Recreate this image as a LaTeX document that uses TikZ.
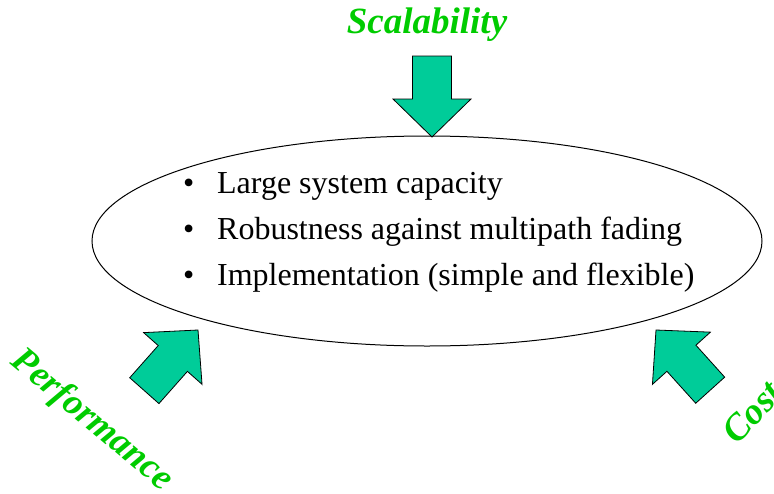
\documentclass[tikz,border=0pt]{standalone}
\usepackage{fontspec}
\setmainfont{Liberation Serif}
\usetikzlibrary{shapes.geometric}

\definecolor{labelgreen}{RGB}{0,204,0}
\definecolor{arrowgreen}{RGB}{0,204,153}

\tikzset{
	goal/.style={draw, ellipse, line width=1pt, minimum width=670pt, minimum height=210pt, inner sep=0pt},
	factor/.style={text=labelgreen, font=\fontsize{37}{40}\selectfont\bfseries\itshape, inner sep=0pt},
	fatarrow/.pic={
		\draw[fill=arrowgreen, line width=0.8pt, line join=miter]
			(0,0) -- (-38,39) -- (-38,19.5) -- (-81,19.5) -- (-81,-19.5) -- (-38,-19.5) -- (-38,-39) -- cycle;
	}
}

\begin{document}
\begin{tikzpicture}[x=1pt, y=-1pt]
		\useasboundingbox (0,0) rectangle (774,493);

		\node[goal] (goals) at (427,241) {};
		\node[anchor=west, align=left, inner sep=0pt, font=\fontsize{32}{46}\selectfont] (list) at (183,232)
			{\makebox[34pt][l]{\textbullet}Large system capacity\\
			 \makebox[34pt][l]{\textbullet}Robustness against multipath fading\\
			 \makebox[34pt][l]{\textbullet}Implementation (simple and flexible)};

		% the three pressures on the design
		\node[factor] (scal) at (427,25) {Scalability};
		\node[factor, rotate=-40] (perf) at (92,421) {Performance};
		\node[factor, rotate=47] (cost) at (752,412) {Cost};

		\pic[rotate=-90] at (432,137) {fatarrow};
		\pic[rotate=48.5] at (198,330) {fatarrow};
		\pic[rotate=132] at (656,330) {fatarrow};

	\end{tikzpicture}
\end{document}
